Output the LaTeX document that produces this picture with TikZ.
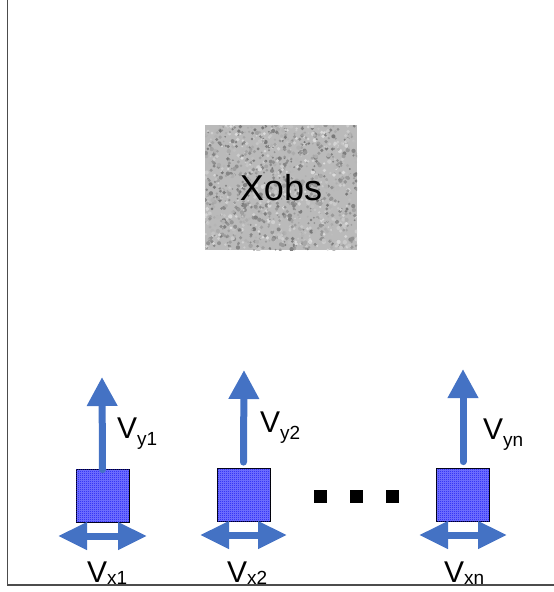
\documentclass[tikz,border=0pt]{standalone}
\usepackage{fontspec}
\setmainfont{Liberation Sans}
\usetikzlibrary{arrows.meta,patterns}
\definecolor{arrowblue}{RGB}{68,114,196}
\definecolor{boxlight}{RGB}{120,120,255}
\definecolor{boxdark}{RGB}{20,20,240}
\pgfdeclarepatternformonly{finecheck}{\pgfpointorigin}{\pgfqpoint{2pt}{2pt}}{\pgfqpoint{2pt}{2pt}}{%
  \pgfpathrectangle{\pgfpointorigin}{\pgfqpoint{1pt}{1pt}}%
  \pgfpathrectangle{\pgfqpoint{1pt}{1pt}}{\pgfqpoint{1pt}{1pt}}%
  \pgfusepath{fill}}
\newcommand\vlab[2]{V\raisebox{-#1pt}{\fontsize{19}{19}\selectfont #2}}
\tikzset{
  axisline/.style={draw=black!70, line width=1.3pt},
  sensor/.style={draw=black, line width=0.8pt, minimum size=53pt, inner sep=0pt,
    fill=boxlight, postaction={pattern=finecheck, pattern color=boxdark}},
  varrow/.style={draw=arrowblue, line width=7pt, line cap=round,
    -{Triangle[length=29pt,width=29pt]}},
  harrow/.style={draw=arrowblue, line width=7pt,
    {Triangle[length=29pt,width=26pt]}-{Triangle[length=29pt,width=26pt]}},
  lab/.style={font=\fontsize{30}{30}\selectfont, inner sep=0pt, anchor=base west},
  dotsq/.style={fill=black, minimum size=13pt, inner sep=0pt},
  obsbox/.style={minimum width=152pt, minimum height=125pt, inner sep=0pt,
    font=\fontsize{36}{36}\selectfont}
}
\begin{document}
\begin{tikzpicture}[x=1pt,y=-1pt]
\useasboundingbox (0,0) rectangle (554,592);
% noisy observation image
\begin{scope}
  \clip (205,125) rectangle (357,250);
  \fill[black!27] (205,125) rectangle (357,250);
  \pgfmathsetseed{7}
  \foreach \i in {1,...,1300}{
    \pgfmathsetmacro\px{205+152*rnd}
    \pgfmathsetmacro\py{125+125*rnd}
    \pgfmathsetmacro\g{int(14+40*rnd)}
    \pgfmathsetmacro\rr{0.9+1.3*rnd}
    \fill[black!\g] (\px,\py) circle (\rr);
  }
\end{scope}
\node[obsbox] (obs) at (281,187.5) {Xobs};
% axes
\coordinate (atop) at (7.5,0);
\coordinate (acorner) at (7.5,585);
\coordinate (aright) at (554,585);
% sensors
\node[sensor] (b1) at (102.5,495.5) {};
\node[sensor] (b2) at (243.5,495) {};
\node[sensor] (bn) at (463,494.5) {};
% vertical arrows
\coordinate (t1) at (102,377);
\coordinate (t2) at (244,370);
\coordinate (tn) at (463,369);
\draw[varrow] ([yshift=-1pt]b1.north) -- (t1);
\draw[varrow] ([yshift=6pt]b2.north) -- (t2);
\draw[varrow] ([yshift=6pt]bn.north) -- (tn);
% horizontal arrows
\coordinate (l1) at (58,536);
\coordinate (r1) at (147,536);
\coordinate (l2) at (200,535);
\coordinate (r2) at (287,535);
\coordinate (ln) at (419,535);
\coordinate (rn) at (507,535);
\draw[harrow] (l1) -- (r1);
\draw[harrow] (l2) -- (r2);
\draw[harrow] (ln) -- (rn);
% dots
\node[dotsq] (d1) at (320.5,496.5) {};
\node[dotsq] (d2) at (356,496.5) {};
\node[dotsq] (d3) at (392,496.5) {};
% labels
\node[lab] (ly1) at (117,438) {\vlab{7}{y1}};
\node[lab] (ly2) at (260,432) {\vlab{7}{y2}};
\node[lab] (lyn) at (483,439) {\vlab{7}{yn}};
\node[lab] (lx1) at (87,582) {\vlab{2}{x1}};
\node[lab] (lx2) at (227,582) {\vlab{2}{x2}};
\node[lab] (lxn) at (444,582) {\vlab{2}{xn}};
\draw[axisline] (atop) -- (acorner) -- (aright);
\end{tikzpicture}
\end{document}
